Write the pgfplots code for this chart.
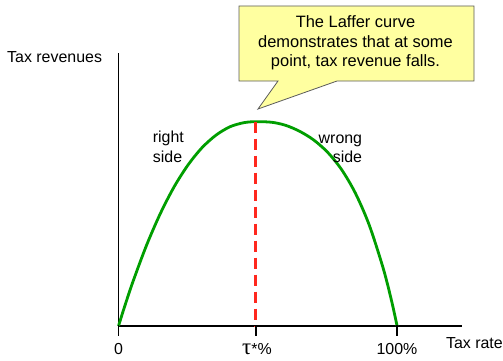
\documentclass[border=0pt]{standalone}
\usepackage{fontspec}
\setmainfont{Liberation Sans}
\newfontfamily\serifsym{Liberation Serif}
\usepackage{pgfplots}
\pgfplotsset{compat=1.18}

\definecolor{laffergreen}{RGB}{0,158,0}
\definecolor{lafferred}{RGB}{255,40,30}
\definecolor{noteyellow}{RGB}{255,255,160}
\definecolor{notedraw}{RGB}{90,90,90}

\begin{document}
\begin{tikzpicture}[x=1bp,y=1bp]
\useasboundingbox (0,0) rectangle (503,360);
\begin{axis}[
    at={(118.5bp,34bp)}, anchor=south west,
    scale only axis,
    width=343.5bp, height=273bp,
    xmin=0, xmax=123.3,
    ymin=0, ymax=133.6,
    axis lines*=left,
    axis line style={line width=1.8bp, black},
    xtick=\empty,
    ytick=\empty,
    clip=false,
]

% Laffer curve
\addplot[laffergreen, line width=2.8bp, smooth, no markers] coordinates {
    (0,0) (2,8.7) (5,21.0) (10,39.3) (15,55.0) (20,68.2) (25,78.9)
    (30,87.3) (35,93.4) (40,97.5) (45,99.5) (49.3,100)
    (55,99.7) (60,98.2) (65,95.3) (70,91.1) (75,85.1) (80,76.7)
    (85,65.1) (90,49.4) (95,28.3) (98,12.4) (100,0)
};

% revenue-maximising rate
\addplot[lafferred, line width=2.8bp, dash pattern=on 11bp off 6bp, no markers]
    coordinates {(49.3,100) (49.3,0)};

\end{axis}

% tick marks below the axis
\draw[black, line width=1.6bp] (118.5,35) -- (118.5,24);
\draw[black, line width=1.6bp] (255.8,35) -- (255.8,24);
\draw[black, line width=1.6bp] (397,35) -- (397,24);

% tick labels
\node[anchor=base, inner sep=0, font=\fontsize{16}{19}\selectfont] at (118.5,6) {0};
\node[anchor=base, inner sep=0, font=\fontsize{16}{19}\selectfont] at (257,6)
    {{\serifsym\fontsize{23}{24}\selectfont τ}*\%};
\node[anchor=base, inner sep=0, font=\fontsize{16}{19}\selectfont] at (397,6) {100\%};

% axis titles
\node[anchor=base west, inner sep=0, font=\fontsize{16}{19}\selectfont] at (7,297.7) {Tax revenues};
\node[anchor=base east, inner sep=0, font=\fontsize{16}{19}\selectfont] at (503,11.3) {Tax rate};

% side labels
\node[anchor=base west, inner sep=0, font=\fontsize{16}{19}\selectfont] at (152.7,217.3) {right};
\node[anchor=base west, inner sep=0, font=\fontsize{16}{19}\selectfont] at (152.7,197.7) {side};
\node[anchor=base east, inner sep=0, font=\fontsize{16}{19}\selectfont] at (362.3,216.7) {wrong};
\node[anchor=base east, inner sep=0, font=\fontsize{16}{19}\selectfont] at (362.3,197.7) {side};

% callout
\draw[notedraw, line width=0.8bp, fill=noteyellow]
    (239,354) -- (474,354) -- (474,279) -- (337,279) -- (258,251)
    -- (278,279) -- (239,279) -- cycle;
\node[align=center, inner sep=0, font=\fontsize{16.5}{19.5}\selectfont] at (355.5,317)
    {The Laffer curve\\demonstrates that at some\\point, tax revenue falls.};
\end{tikzpicture}
\end{document}
